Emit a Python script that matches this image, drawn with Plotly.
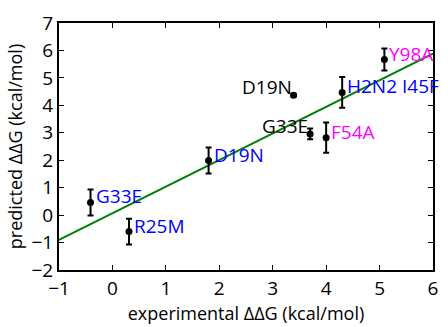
import plotly.graph_objects as go

# data
labels = ["G33E", "R25M", "D19N", "D19N", "G33E", "F54A", "H2N2 I45F", "Y98A"]
exp_ddg = [-0.41, 0.31, 1.80, 3.39, 3.70, 4.00, 4.30, 5.09]
pred_ddg = [0.46, -0.60, 1.99, 4.37, 2.96, 2.82, 4.47, 5.67]
pred_err = [0.47, 0.47, 0.47, 0.05, 0.20, 0.55, 0.56, 0.40]
label_colors = ["#0000FF", "#0000FF", "#0000FF", "#000000", "#000000", "#FF00FF", "#0000FF", "#FF00FF"]
label_side = ["right", "right", "right", "left", "left", "right", "right", "right"]

fit_x = [-1, 6]
fit_y = [-0.90, 5.88]

FONT = "Open Sans"
FS = 18

fig = go.Figure()
fig.add_trace(go.Scatter(x=fit_x, y=fit_y, mode="lines",
                         line=dict(color="#008000", width=2), showlegend=False))
fig.add_trace(go.Scatter(
    x=exp_ddg, y=pred_ddg, mode="markers",
    marker=dict(color="black", size=7),
    error_y=dict(type="data", array=pred_err, color="black", thickness=2, width=3),
    showlegend=False))

for lab, x, y, c, side in zip(labels, exp_ddg, pred_ddg, label_colors, label_side):
    if side == "right":
        fig.add_annotation(x=x, y=y, text=lab, showarrow=False, xanchor="left",
                           yanchor="middle", xshift=3, yshift=6,
                           font=dict(family=FONT, size=FS + 1, color=c))
    else:
        fig.add_annotation(x=x, y=y, text=lab, showarrow=False, xanchor="right",
                           yanchor="middle", xshift=0, yshift=8,
                           font=dict(family=FONT, size=FS + 1, color=c))

axis_common = dict(showgrid=False, zeroline=False, showline=True, linecolor="black",
                   linewidth=2, mirror="ticks", ticks="inside", ticklen=5,
                   tickwidth=1, tickcolor="black", ticklabeloverflow="allow",
                   tickfont=dict(family=FONT, size=FS + 1, color="black"))

fig.update_xaxes(range=[-1, 6], tickvals=[-1, 0, 1, 2, 3, 4, 5, 6],
                 ticktext=["\u22121", "0", "1", "2", "3", "4", "5", "6"],
                 title=dict(text="experimental \u0394\u0394G (kcal/mol)",
                            font=dict(family=FONT, size=FS, color="black"), standoff=4),
                 **axis_common)
fig.update_yaxes(range=[-2, 7], tickvals=[-2, -1, 0, 1, 2, 3, 4, 5, 6, 7],
                 ticktext=["\u22122", "\u22121", "0", "1", "2", "3", "4", "5", "6", "7"],
                 title=dict(text="predicted \u0394\u0394G (kcal/mol)",
                            font=dict(family=FONT, size=FS, color="black"), standoff=4),
                 **axis_common)

fig.update_layout(width=448, height=327, margin=dict(l=59, r=10, t=12, b=52),
                  plot_bgcolor="white", paper_bgcolor="white",
                  font=dict(family=FONT))
fig.write_html("out.html", config={"displayModeBar": False},
               post_script="document.body.style.margin='0';")
